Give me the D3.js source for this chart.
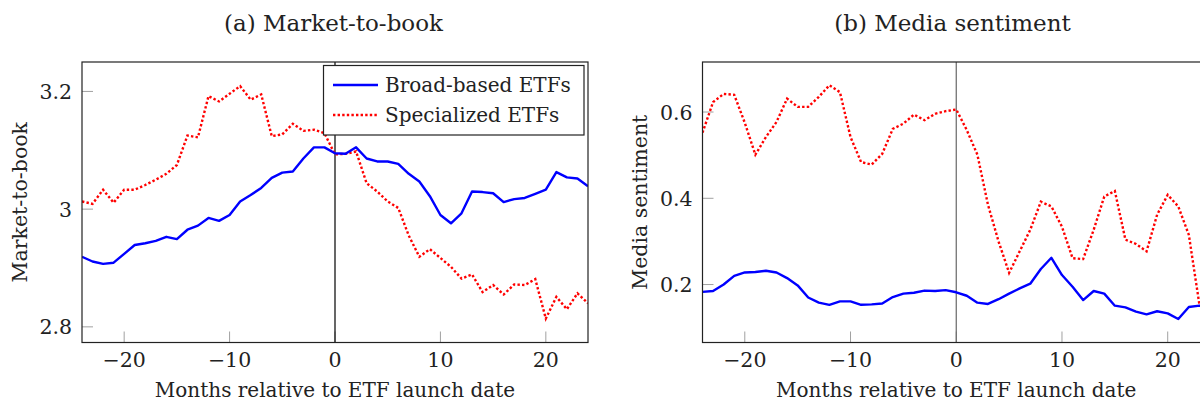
<!DOCTYPE html>
<html>
<head>
<meta charset="utf-8">
<script src="https://cdn.jsdelivr.net/npm/d3@7"></script>
<style>
  body { margin: 0; background: #fff; }
  svg text { font-family: "DejaVu Serif", "Liberation Serif", serif; fill: #222; }
</style>
</head>
<body>
<div id="chart"></div>
<script>
// months relative to launch
var months = d3.range(-24, 25);

// (a) market-to-book
var mtbBroad = [2.919, 2.911, 2.907, 2.909, 2.924, 2.939, 2.942, 2.946, 2.953, 2.949,
  2.965, 2.972, 2.985, 2.980, 2.990, 3.013, 3.024, 3.036, 3.053, 3.062,
  3.064, 3.086, 3.105, 3.105, 3.095, 3.094, 3.105, 3.086, 3.081, 3.081,
  3.077, 3.060, 3.047, 3.022, 2.990, 2.976, 2.993, 3.030, 3.029, 3.027,
  3.012, 3.017, 3.019, 3.026, 3.033, 3.063, 3.054, 3.052, 3.039];
var mtbSpec = [3.013, 3.009, 3.033, 3.011, 3.033, 3.033, 3.041, 3.050, 3.060, 3.075,
  3.125, 3.122, 3.192, 3.183, 3.196, 3.209, 3.186, 3.195, 3.124, 3.127,
  3.145, 3.133, 3.135, 3.129, 3.093, 3.094, 3.098, 3.044, 3.030, 3.013,
  3.002, 2.955, 2.919, 2.932, 2.917, 2.902, 2.882, 2.889, 2.859, 2.871,
  2.855, 2.872, 2.871, 2.881, 2.814, 2.851, 2.830, 2.857, 2.840];

// (b) media sentiment
var sentBroad = [0.183, 0.185, 0.200, 0.220, 0.228, 0.229, 0.232, 0.228, 0.215, 0.198,
  0.170, 0.158, 0.153, 0.161, 0.161, 0.153, 0.154, 0.156, 0.171, 0.179,
  0.181, 0.186, 0.185, 0.187, 0.182, 0.174, 0.158, 0.155, 0.166, 0.179,
  0.191, 0.202, 0.236, 0.262, 0.222, 0.195, 0.164, 0.185, 0.179, 0.151,
  0.147, 0.137, 0.131, 0.138, 0.133, 0.120, 0.148, 0.151, 0.150];
var sentSpec = [0.552, 0.623, 0.642, 0.640, 0.575, 0.501, 0.542, 0.577, 0.631, 0.612,
  0.612, 0.635, 0.662, 0.646, 0.542, 0.484, 0.478, 0.503, 0.561, 0.573,
  0.594, 0.581, 0.596, 0.602, 0.606, 0.558, 0.501, 0.385, 0.300, 0.227,
  0.277, 0.327, 0.392, 0.381, 0.334, 0.261, 0.259, 0.327, 0.404, 0.417,
  0.304, 0.294, 0.277, 0.362, 0.408, 0.381, 0.315, 0.153, 0.140];

var xTicks = [-20, -10, 0, 10, 20];
var mtbTicks = [2.8, 3, 3.2];
var sentTicks = [0.2, 0.4, 0.6];
var seriesNames = ["Broad-based ETFs", "Specialized ETFs"];

var svg = d3.select("#chart").append("svg")
  .attr("width", 1200)
  .attr("height", 402);

var panels = [
  { title: "(a) Market-to-book", titleX: 333.5, ylabel: "Market-to-book", ylabelX: 27,
    left: 82, right: 588, yDomain: [2.7734, 3.25], yTicks: mtbTicks, fmt: d3.format(".1~f"),
    broad: mtbBroad, spec: mtbSpec, zeroColor: "#000", legend: true },
  { title: "(b) Media sentiment", titleX: 952.5, ylabel: "Media sentiment", ylabelX: 647,
    left: 702.5, right: 1210, yDomain: [0.0656, 0.716], yTicks: sentTicks, fmt: d3.format(".1f"),
    broad: sentBroad, spec: sentSpec, zeroColor: "#666", legend: false }
];

var plotTop = 62, plotBottom = 342.5;
var fs = "20.5px";

panels.forEach(function (p) {
  var x = d3.scaleLinear().domain([-24, 24]).range([p.left, p.right]);
  var y = d3.scaleLinear().domain(p.yDomain).range([plotBottom, plotTop]);
  var g = svg.append("g");

  // ticks (inside, grey)
  g.selectAll(".xt").data(xTicks).enter().append("line")
    .attr("x1", d => x(d)).attr("x2", d => x(d))
    .attr("y1", plotBottom).attr("y2", plotBottom - 11)
    .attr("stroke", "#a0a0a0").attr("stroke-width", 1);
  g.selectAll(".yt").data(p.yTicks).enter().append("line")
    .attr("x1", p.left).attr("x2", p.left + 11)
    .attr("y1", d => y(d)).attr("y2", d => y(d))
    .attr("stroke", "#a0a0a0").attr("stroke-width", 1);

  // tick labels
  g.selectAll(".xl").data(xTicks).enter().append("text")
    .attr("x", d => x(d)).attr("y", 367)
    .attr("text-anchor", "middle")
    .style("font-size", fs)
    .text(d => d < 0 ? "\u2212" + Math.abs(d) : d);
  g.selectAll(".yl").data(p.yTicks).enter().append("text")
    .attr("x", p.left - 10).attr("y", d => y(d) + 7.5)
    .attr("text-anchor", "end")
    .style("font-size", fs)
    .text(d => p.fmt(d));

  // zero line
  g.append("line")
    .attr("x1", x(0)).attr("x2", x(0))
    .attr("y1", plotTop).attr("y2", plotBottom)
    .attr("stroke", p.zeroColor).attr("stroke-width", 1.2);

  var line = d3.line()
    .x((d, i) => x(months[i]))
    .y(d => y(d));

  var clipId = "clip" + Math.round(p.left);
  g.append("clipPath").attr("id", clipId)
    .append("rect").attr("x", p.left).attr("y", plotTop)
    .attr("width", p.right - p.left).attr("height", plotBottom - plotTop);

  g.append("path").datum(p.spec)
    .attr("clip-path", "url(#" + clipId + ")")
    .attr("d", line)
    .attr("fill", "none").attr("stroke", "#ff0000")
    .attr("stroke-width", 2.4).attr("stroke-dasharray", "2.4 2.2");
  g.append("path").datum(p.broad)
    .attr("clip-path", "url(#" + clipId + ")")
    .attr("d", line)
    .attr("fill", "none").attr("stroke", "#0000ff")
    .attr("stroke-width", 2.4).attr("stroke-linejoin", "round");

  // frame
  g.append("rect")
    .attr("x", p.left).attr("y", plotTop)
    .attr("width", p.right - p.left).attr("height", plotBottom - plotTop)
    .attr("fill", "none").attr("stroke", "#222").attr("stroke-width", 1.2);

  // titles and labels
  svg.append("text")
    .attr("x", p.titleX).attr("y", 31)
    .attr("text-anchor", "middle")
    .style("font-size", "23px")
    .text(p.title);
  svg.append("text")
    .attr("x", (p.left + p.right) / 2).attr("y", 397)
    .attr("text-anchor", "middle")
    .style("font-size", "20px")
    .text("Months relative to ETF launch date");
  svg.append("text")
    .attr("transform", "translate(" + p.ylabelX + "," + ((plotTop + plotBottom) / 2) + ") rotate(-90)")
    .attr("text-anchor", "middle")
    .style("font-size", fs)
    .text(p.ylabel);

  if (p.legend) {
    var lg = g.append("g");
    lg.append("rect")
      .attr("x", 323.5).attr("y", 65.5).attr("width", 260.5).attr("height", 69.5)
      .attr("fill", "#fff").attr("stroke", "#222").attr("stroke-width", 1.2);
    var rows = [{ name: seriesNames[0], color: "#0000ff", dash: null },
                { name: seriesNames[1], color: "#ff0000", dash: "2.4 2.2" }];
    rows.forEach(function (r, i) {
      var ly = 85 + i * 30;
      lg.append("line")
        .attr("x1", 333).attr("x2", 378).attr("y1", ly).attr("y2", ly)
        .attr("stroke", r.color).attr("stroke-width", 2.4)
        .attr("stroke-dasharray", r.dash);
      lg.append("text")
        .attr("x", 385).attr("y", ly + 7)
        .style("font-size", "20px")
        .text(r.name);
    });
  }
});
</script>
</body>
</html>
